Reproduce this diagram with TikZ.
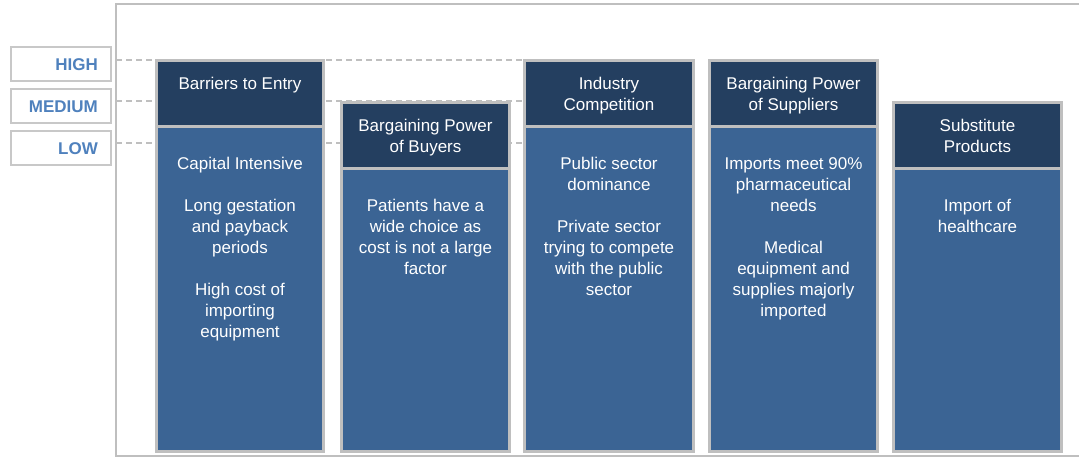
\documentclass[tikz,border=0pt]{standalone}
\usepackage{fontspec}
\setmainfont{Liberation Sans}
\definecolor{gridgrey}{HTML}{BFBFBF}
\definecolor{boxgrey}{HTML}{C8C8C8}
\definecolor{hdr}{HTML}{243F60}
\definecolor{bod}{HTML}{3B6494}
\definecolor{lbl}{HTML}{4F81BD}
\begin{document}
\begin{tikzpicture}[x=1pt,y=-1pt,
  txt/.style={text=white, font=\fontsize{17}{21}\selectfont, align=center, anchor=base, inner sep=0pt},
  lab/.style={text=lbl, font=\bfseries\fontsize{17}{21}\selectfont, anchor=base east, inner sep=0pt},
  lbox/.style={draw=boxgrey, line width=1.5pt},
  guide/.style={draw=gridgrey, line width=2pt, dash pattern=on 6pt off 4pt}]
\useasboundingbox (0,0) rectangle (1079,458);
% outer frame
\draw[gridgrey, line width=2.5pt] (1079,4) -- (116,4) -- (116,456) -- (1079,456);
% level guides
\coordinate (gH0) at (116,60);  \coordinate (gH1) at (523,60);
\coordinate (gM0) at (116,101); \coordinate (gM1) at (523,101);
\coordinate (gL0) at (116,143); \coordinate (gL1) at (523,143);
\draw[guide] (gH0) -- (gH1);
\draw[guide] (gM0) -- (gM1);
\draw[guide] (gL0) -- (gL1);
% level labels
\draw[lbox] (11,47) rectangle (111,81);
\draw[lbox] (11,89) rectangle (111,123);
\draw[lbox] (11,131) rectangle (111,165);
\node[lab] (lh) at (98,70) {HIGH};
\node[lab] (lm) at (98,112.5) {MEDIUM};
\node[lab] (ll) at (98,154) {LOW};
% columns
\foreach \xa/\xb/\ya/\hb in {155/325/59/125, 340/511/101/167, 523/695/59/125, 708/879/59/125, 892/1063/101/167} {
  \fill[gridgrey] (\xa,\ya) rectangle (\xb,453);
  \fill[hdr] (\xa+3,\ya+3) rectangle (\xb-3,\hb);
  \fill[bod] (\xa+3,\hb+3) rectangle (\xb-3,450);
}
% header texts (anchor = baseline of last line)
\node[txt] (h1) at (240,89) {Barriers to Entry};
\node[txt] (h2) at (425.5,152) {Bargaining Power\\of Buyers};
\node[txt] (h3) at (609,110) {Industry\\Competition};
\node[txt] (h4) at (793.5,110) {Bargaining Power\\of Suppliers};
\node[txt] (h5) at (977.5,152) {Substitute\\Products};
% body texts
\node[txt] (b1) at (240,337) {Capital Intensive\\[21pt]Long gestation\\and payback\\periods\\[21pt]High cost of\\importing\\equipment};
\node[txt] (b2) at (425.5,274) {Patients have a\\wide choice as\\cost is not a large\\factor};
\node[txt] (b3) at (609,295) {Public sector\\dominance\\[21pt]Private sector\\trying to compete\\with the public\\sector};
\node[txt] (b4) at (793.5,316) {Imports meet 90\%\\pharmaceutical\\needs\\[21pt]Medical\\equipment and\\supplies majorly\\imported};
\node[txt] (b5) at (977.5,232) {Import of\\healthcare};
\end{tikzpicture}
\end{document}
